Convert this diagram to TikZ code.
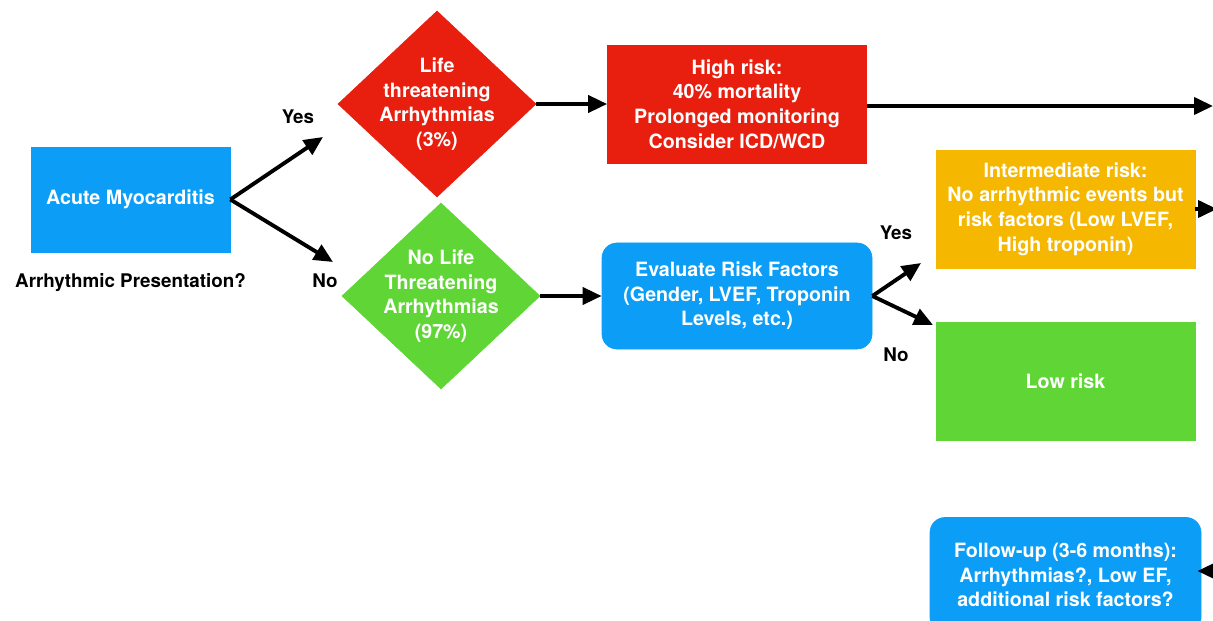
\documentclass[tikz,border=0pt]{standalone}
\usepackage{fontspec}
\setmainfont{TeX Gyre Heros}
\usetikzlibrary{positioning,arrows.meta,shapes.geometric}

\definecolor{myoblue}{RGB}{12,158,246}
\definecolor{riskred}{RGB}{232,30,14}
\definecolor{riskgreen}{RGB}{95,214,54}
\definecolor{riskorange}{RGB}{245,183,0}

\begin{document}
\begin{tikzpicture}[
    boxfont/.style={text=white, font=\fontsize{11.2}{14}\selectfont\bfseries, align=center},
    riskbox/.style={rectangle, draw=#1, fill=#1, boxfont, minimum width=5.18cm, minimum height=2.36cm},
    decision/.style={diamond, draw=#1, fill=#1, inner sep=0pt, minimum width=3.96cm, minimum height=3.72cm},
    yn/.style={font=\fontsize{10.7}{13}\selectfont\bfseries, text=black},
    flow/.style={-{Triangle[length=0.38cm,width=0.34cm]}, line width=2.2pt, black}]
        \useasboundingbox (0,0) rectangle (24.26,-12.42);

        %% Start
        \node[rectangle, draw=myoblue, fill=myoblue, boxfont, minimum width=3.98cm, minimum height=2.1cm] (acute) at (2.61,-3.99) {Acute Myocarditis};
        \node[yn, below=0.3cm of acute] (present) {Arrhythmic Presentation?};

        %% Decisions
        \node[decision=riskred, label={[boxfont]center:{Life\\threatening\\Arrhythmias\\(3\%)}}] (lifet) at (8.74,-2.08) {};
        \node[decision=riskgreen, label={[boxfont]center:{No Life\\Threatening\\Arrhythmias\\(97\%)}}] (nolife) at (8.82,-5.92) {};

        \coordinate (yesend) at (6.46,-2.74);
        \coordinate (noend) at (6.66,-5.24);
        \draw[flow] (acute.east) -- (yesend);
        \draw[flow] (acute.east) -- (noend);
        \node[yn] (yes1) at (5.96,-2.34) {Yes};
        \node[yn] (no1) at (6.5,-5.62) {No};

        %% High risk branch
        \node[riskbox=riskred] (high) at (14.74,-2.08) {High risk:\\40\% mortality\\Prolonged monitoring\\Consider ICD/WCD};
        \coordinate (highout) at (24.26,-2.12);
        \draw[flow] (lifet.east) -- (high.west);
        \draw[flow] (high.east |- highout) -- (highout);

        %% Risk factors
        \node[rectangle, rounded corners=0.3cm, draw=myoblue, fill=myoblue, boxfont, minimum width=5.4cm, minimum height=2.12cm] (evalrf) at (14.74,-5.92) {Evaluate Risk Factors\\(Gender, LVEF, Troponin\\Levels, etc.)};
        \draw[flow] (nolife.east) -- (evalrf.west);

        \coordinate (yesend2) at (18.42,-5.26);
        \coordinate (noend2) at (18.66,-6.5);
        \draw[flow] (evalrf.east) -- (yesend2);
        \draw[flow] (evalrf.east) -- (noend2);
        \node[yn] (yes2) at (17.92,-4.66) {Yes};
        \node[yn] (no2) at (17.92,-7.1) {No};

        \node[riskbox=riskorange] (inter) at (21.31,-4.18) {Intermediate risk:\\No arrhythmic events but\\risk factors (Low LVEF,\\High troponin)};
        \node[riskbox=riskgreen] (low) at (21.31,-7.62) {Low risk};

        \coordinate (interout) at (24.34,-4.18);
        \draw[flow] (inter.east) -- (interout);

        %% Follow-up
        \node[rectangle, rounded corners=0.3cm, draw=myoblue, fill=myoblue, boxfont, minimum width=5.42cm, minimum height=2.3cm] (follow) at (21.31,-11.5) {Follow-up (3-6 months):\\Arrhythmias?, Low EF,\\additional risk factors?};
        \coordinate (followin) at (24.8,-11.42);
        \draw[flow] (followin) -- ([xshift=-0.08cm]follow.east |- followin);
\end{tikzpicture}
\end{document}
